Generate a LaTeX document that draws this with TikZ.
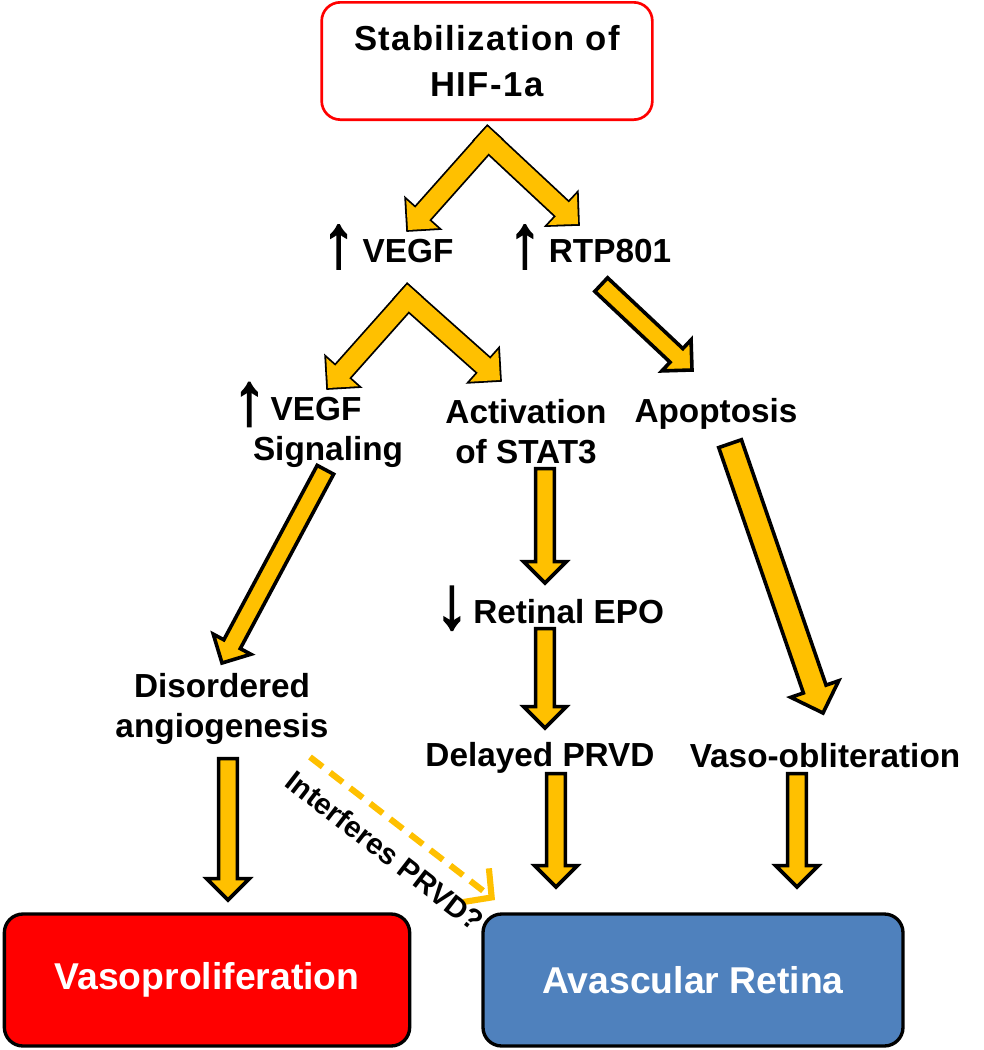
\documentclass[tikz,border=0pt]{standalone}
\usepackage{fontspec}
\setmainfont{Liberation Sans}
\newfontfamily\markfont[FakeBold=3]{Liberation Sans}
\usepackage{graphicx}
\usepackage{xcolor}
\usepackage{tikz}
\usetikzlibrary{calc,arrows.meta,positioning}

\definecolor{arrowgold}{HTML}{FFC000}
\definecolor{boxred}{HTML}{FF0000}
\definecolor{boxblue}{HTML}{4F81BD}

% tall up / down marks in the labels
\newcommand{\upmark}{\smash{\raisebox{-3pt}{\scalebox{1}[1.15]{\markfont\fontsize{48}{48}\selectfont ↑}}}}
\newcommand{\downmark}{\smash{\raisebox{-3pt}{\scalebox{1}[1.15]{\markfont\fontsize{48}{48}\selectfont ↓}}}}

% block arrow: [style]{from}{to}{half shaft}{half head}
\newcommand{\blockarrow}[5][]{%
  \path[#1] ($(#2)!-#4!(#3)!#4!90:(#3)$)
    -- ($(#3)!#5!(#2)!#4!90:(#3)$)
    -- ($(#3)!#5!(#2)!#5!90:(#3)$)
    -- (#3)
    -- ($(#3)!#5!(#2)!#5!-90:(#3)$)
    -- ($(#3)!#5!(#2)!#4!-90:(#3)$)
    -- ($(#2)!-#4!(#3)!#4!-90:(#3)$) -- cycle;}

\begin{document}
\begin{tikzpicture}[
	x=0.75pt, y=-0.75pt,
	every node/.style = {align=center, inner sep=0pt,
	font=\fontsize{25}{30}\selectfont\bfseries},
	start/.style = {draw=boxred, line width=2pt, rounded corners=14pt,
	minimum width=248pt, minimum height=88pt,
	font=\fontsize{26}{35}\selectfont\bfseries\addfontfeature{LetterSpace=4}},
	outcome/.style = {draw=black, line width=2.5pt, rounded corners=14pt,
	minimum height=99pt, text=white,
	font=\fontsize{28}{34}\selectfont\bfseries},
	outline/.style = {draw=black, line width=2.7pt, line join=miter, fill=arrowgold},
	fillonly/.style = {fill=arrowgold},
	hint/.style = {draw=arrowgold, line width=4.6pt, dash pattern=on 12pt off 7pt,
	-{Straight Barb[length=15pt,width=32pt,line width=4.6pt]}}
]
\useasboundingbox (0,0) rectangle (984,1050);

% boxes and labels
\node[start] (hif) at (487,61) {Stabilization of\\HIF-1a};
\node (vegf) at (388,251) {\upmark\hspace{6pt}VEGF};
\node (rtp) at (590,251) {\upmark\hspace{6pt}RTP801};
\node (vsig) at (328,432) {\llap{\upmark\hspace{4pt}}VEGF\hspace*{18pt}\\Signaling};
\node (stat) at (526,432) {Activation\\of STAT3};
\node (apop) at (716,414) {Apoptosis};
\node (epo) at (550,612) {\downmark\hspace{4pt}Retinal EPO};
\node (dis) at (222,709) {Disordered\\angiogenesis};
\node (prvd) at (540,758) {Delayed PRVD};
\node (vaso) at (825,756) {Vaso-obliteration};
\node[outcome, fill=boxred, minimum width=304pt] (vpro) at (207,980) {Vasoproliferation};
\node[outcome, fill=boxblue, minimum width=315pt] (avas) at (693,980) {Avascular Retina};

% arrow end points
\coordinate (hifapex) at (488,140);
\coordinate (vegfin) at (408,230);
\coordinate (rtpin) at (578,224);
\coordinate (vegfapex) at (408,298);
\coordinate (sigin) at (328,388);
\coordinate (statin) at (500,380);
\coordinate (rtpout) at (608,291);
\coordinate (apopin) at (692,370);
\coordinate (sigout) at (321,478);
\coordinate (disin) at (222,663);
\coordinate (statout) at (545,478);
\coordinate (epoin) at (545,583);
\coordinate (epoout) at (545,638);
\coordinate (prvdin) at (545,728);
\coordinate (apopout) at (734,455);
\coordinate (vasoin) at (823,713);
\coordinate (disout) at (228,768);
\coordinate (vproin) at (228,900);
\coordinate (prvdout) at (556,783);
\coordinate (avasin) at (556,887);
\coordinate (vasoout) at (797,783);
\coordinate (avasin2) at (797,887);
\coordinate (hintout) at (310,757);
\coordinate (hintin) at (495,900);

% forks
\blockarrow[outline]{hifapex}{vegfin}{7pt}{16pt}
\blockarrow[outline]{hifapex}{rtpin}{7pt}{16pt}
\blockarrow[fillonly]{hifapex}{vegfin}{7pt}{16pt}
\blockarrow[fillonly]{hifapex}{rtpin}{7pt}{16pt}
\blockarrow[outline]{vegfapex}{sigin}{7pt}{16pt}
\blockarrow[outline]{vegfapex}{statin}{7pt}{16pt}
\blockarrow[fillonly]{vegfapex}{sigin}{7pt}{16pt}
\blockarrow[fillonly]{vegfapex}{statin}{7pt}{16pt}

% single arrows
\blockarrow[outline]{rtpout}{apopin}{7pt}{16pt}
\blockarrow[outline]{sigout}{disin}{7pt}{16pt}
\blockarrow[outline]{statout}{epoin}{7pt}{16pt}
\blockarrow[outline]{epoout}{prvdin}{7pt}{16pt}
\blockarrow[outline]{apopout}{vasoin}{9pt}{19pt}
\blockarrow[outline]{disout}{vproin}{7pt}{16pt}
\blockarrow[outline]{prvdout}{avasin}{7pt}{16pt}
\blockarrow[outline]{vasoout}{avasin2}{7pt}{16pt}

% dashed hint
\draw[hint] (hintout) -- (hintin)
	node[pos=0.5, sloped, below=11pt, font=\fontsize{22}{26}\selectfont\bfseries] (hinttext) {Interferes PRVD?};
\end{tikzpicture}
\end{document}
